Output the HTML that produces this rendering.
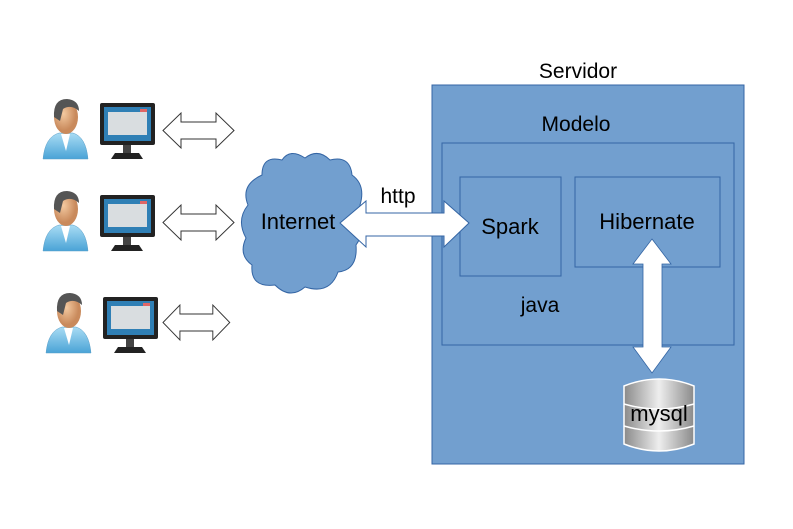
<!DOCTYPE html><html><head><style>body{margin:0;background:#fff}svg{display:block}text{font-family:"Liberation Sans",sans-serif}</style></head><body>
<svg width="793" height="529" viewBox="0 0 793 529" xmlns="http://www.w3.org/2000/svg">
<defs>
<linearGradient id="cyl" x1="0" x2="1"><stop offset="0" stop-color="#8a8a8a"/><stop offset="0.5" stop-color="#eeeeee"/><stop offset="1" stop-color="#8a8a8a"/></linearGradient>
<radialGradient id="skin" cx="0.4" cy="0.4"><stop offset="0" stop-color="#f3c9a0"/><stop offset="1" stop-color="#c98a5c"/></radialGradient>
<linearGradient id="shirt" x1="0" y1="0" x2="0" y2="1"><stop offset="0" stop-color="#a9dcf4"/><stop offset="1" stop-color="#4aa3d6"/></linearGradient>
<g id="client">
<path d="M0,60 Q2,38 16,34 L30,34 Q43,38 45,60 Z" fill="url(#shirt)" stroke="#5a9fc8" stroke-width="0.5"/>
<path d="M18,35 L23,52 L27,35 Z" fill="#fff"/>
<ellipse cx="23" cy="18" rx="12" ry="17" fill="url(#skin)"/>
<path d="M11,18 Q10,0 24,0 Q36,1 36,12 Q28,5 20,10 L17,22 Z" fill="#555"/>
<rect x="57" y="4" width="55" height="42" rx="2" fill="#222"/>
<rect x="61" y="8" width="47" height="34" fill="#2f7fb5"/>
<rect x="65" y="13" width="39" height="23" fill="#d9dde0"/>
<rect x="97" y="10" width="7" height="3" fill="#e06666"/>
<rect x="80" y="46" width="8" height="8" fill="#444"/>
<path d="M68,60 L72,54 L96,54 L100,60 Z" fill="#222"/>
</g>
<path id="darr" d="M0,17.5 L18,0 L18,9 L53,9 L53,0 L71,17.5 L53,35 L53,26 L18,26 L18,35 Z" fill="#fff" stroke="#333" stroke-width="1"/>
</defs>
<use href="#client" x="43" y="99"/>
<use href="#client" x="43" y="191"/>
<use href="#client" x="46" y="293"/>
<use href="#darr" x="163" y="113"/>
<use href="#darr" x="163" y="205"/>
<use href="#darr" x="163" y="305" transform="translate(163,305) scale(0.94,1) translate(-163,-305)"/>
<g fill="#729fcf" stroke="#3465a4" stroke-width="1">
<path d="M262,175 Q262,155 282,160 Q290,148 305,158 Q318,148 330,160 Q350,155 352,175 Q366,185 360,205 Q368,228 356,245 Q358,270 338,272 Q330,295 305,287 Q290,300 275,285 Q250,288 252,265 Q238,255 246,238 Q236,220 248,205 Q240,185 262,175 Z"/>
</g>
<text x="298" y="229" font-size="22" text-anchor="middle" fill="#000">Internet</text>
<rect x="432" y="85" width="312" height="379" fill="#729fcf" stroke="#3465a4"/>
<text x="578" y="78" font-size="21" text-anchor="middle">Servidor</text>
<rect x="442" y="143" width="292" height="202" fill="none" stroke="#3465a4"/>
<text x="576" y="131" font-size="21" text-anchor="middle">Modelo</text>
<rect x="460" y="177" width="101" height="99" fill="none" stroke="#3465a4"/>
<text x="510" y="234" font-size="22" text-anchor="middle">Spark</text>
<rect x="575" y="177" width="145" height="90" fill="none" stroke="#3465a4"/>
<text x="647" y="229" font-size="22" text-anchor="middle">Hibernate</text>
<text x="540" y="312" font-size="21" text-anchor="middle">java</text>
<path d="M340,223 L366,201 L366,213 L444,213 L444,201 L469,223 L444,247 L444,236 L366,236 L366,247 Z" fill="#fff" stroke="#3465a4" stroke-width="1"/>
<text x="398" y="203" font-size="21" text-anchor="middle">http</text>
<path d="M652,239 L671,264 L662,264 L662,347 L671,347 L652,373 L633,347 L643,347 L643,264 L633,264 Z" fill="#fff" stroke="#3465a4" stroke-width="0.8"/>
<g stroke="#fff" stroke-width="1.5" fill="url(#cyl)">
<path d="M624,386 Q659,372 694,386 L694,444 Q659,458 624,444 Z"/>
<path d="M624,404 Q659,414 694,404" fill="none"/>
<path d="M624,426 Q659,436 694,426" fill="none"/>
</g>
<text x="659" y="421" font-size="22" text-anchor="middle">mysql</text>
</svg>
</body></html>
